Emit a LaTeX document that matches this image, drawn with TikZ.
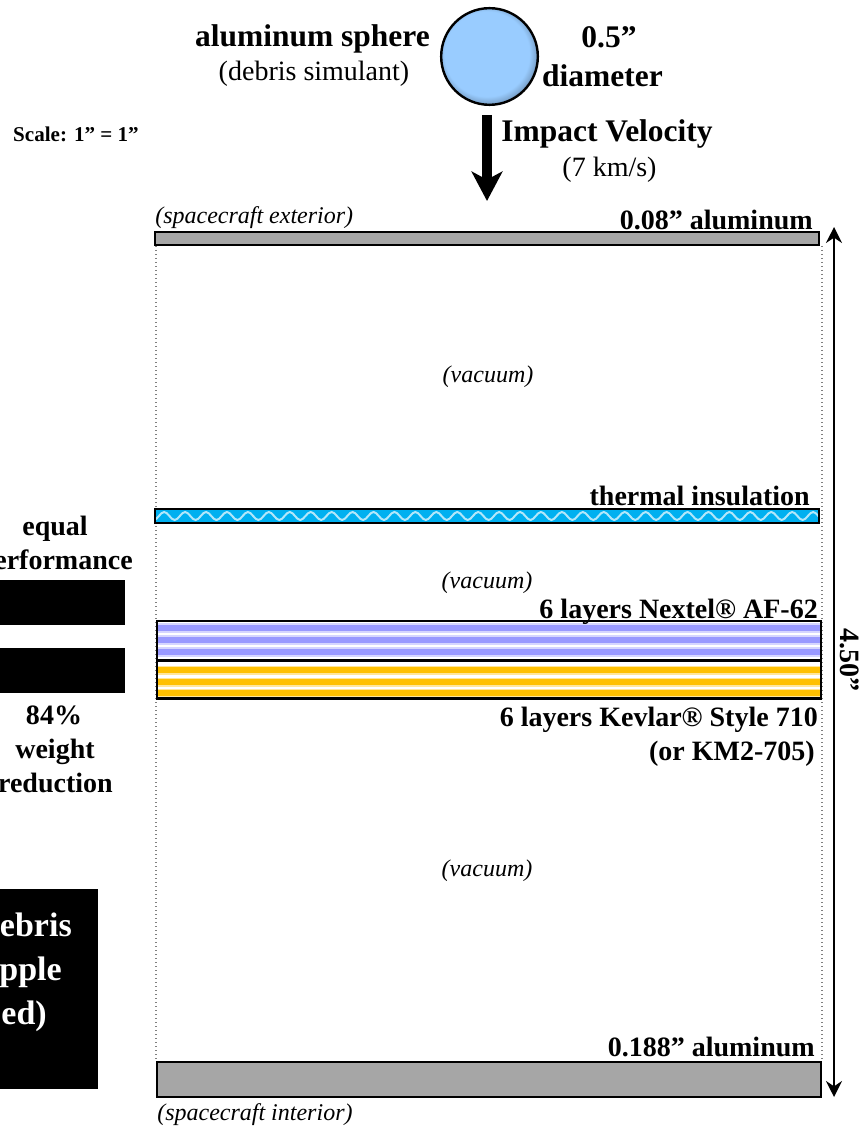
\documentclass[tikz,border=0pt]{standalone}
\usepackage{fontspec}
\setmainfont{Liberation Serif}
\usetikzlibrary{arrows.meta,decorations.pathmorphing}
\definecolor{alugray}{HTML}{A6A6A6}
\definecolor{insblue}{HTML}{00B0F0}
\definecolor{nexblue}{HTML}{9999FF}
\definecolor{kevgold}{HTML}{FFC000}
\definecolor{sphbl}{HTML}{99CCFF}
\definecolor{sphmid}{HTML}{7FA9D4}
\definecolor{sphdk}{HTML}{34465A}
\pgfdeclareradialshading{spheresh}{\pgfpoint{-3bp}{3bp}}{%
  color(0bp)=(sphbl); color(22bp)=(sphbl); color(25bp)=(sphmid); color(28.5bp)=(sphdk); color(40bp)=(sphdk)}
\tikzset{
  bf/.style={font=\bfseries\fontsize{21}{25}\selectfont,anchor=base,inner sep=0pt},
  bg/.style={font=\bfseries\fontsize{23.6}{28}\selectfont,anchor=base,inner sep=0pt},
  rm/.style={font=\fontsize{21}{25}\selectfont,anchor=base,inner sep=0pt},
  it/.style={font=\itshape\fontsize{18}{22}\selectfont,anchor=base,inner sep=0pt},
  wt/.style={font=\bfseries\fontsize{25.5}{30}\selectfont,anchor=base,inner sep=0pt,text=white},
  layer/.style={draw=black,line width=1.8pt,inner sep=0pt,anchor=north west,minimum width=498pt},
  blk/.style={fill=black,draw=none,inner sep=0pt,anchor=north west},
  nexstripes/.style={path picture={
    \foreach \yy in {-13,-1,11}{
      \fill[nexblue!40] (-400,\yy-5) rectangle (400,\yy+5);
      \fill[nexblue] (-400,\yy-3) rectangle (400,\yy+3);}}},
  kevstripes/.style={path picture={
    \foreach \yy in {-9.5,2.5,13.5}{
      \fill[kevgold!40] (-400,\yy-4.5) rectangle (400,\yy+4.5);
      \fill[kevgold] (-400,\yy-2.7) rectangle (400,\yy+2.7);}}},
  inswave/.style={path picture={
    \draw[white!70!insblue,line width=1.5pt,decorate,decoration={snake,segment length=15.7pt,amplitude=3pt}] (-350,0) -- (350,0);}},
}
\begin{document}
\begin{tikzpicture}[x=0.75pt,y=-0.75pt]
            \useasboundingbox (0,0) rectangle (863,1126);
            % guide lines
            \coordinate (gla) at (156,246);
            \coordinate (glb) at (156,1061);
            \coordinate (gra) at (822,246);
            \coordinate (grb) at (822,1061);
            \path (gla) edge[gray,dotted,line width=1pt] (glb);
            \path (gra) edge[gray,dotted,line width=1pt] (grb);
            % layers
            \node[layer,fill=alugray,minimum height=9.45pt] (alutop) at (153.5,231) {};
            \node[layer,fill=insblue,minimum height=10.2pt,inswave] (ins) at (153.5,508) {};
            \node[layer,fill=white,minimum height=28.95pt,nexstripes] (nex) at (155.5,620) {};
            \node[layer,fill=white,minimum height=28.2pt,kevstripes] (kev) at (155.5,659.5) {};
            \node[layer,fill=alugray,minimum height=25.95pt] (alubot) at (155.5,1061) {};
            % sphere and impact arrow
            \node[circle,draw=black,line width=1.8pt,minimum size=72.5pt,inner sep=0pt,shading=spheresh] (sph) at (489.5,56.5) {};
            \coordinate (va) at (487,115);
            \coordinate (vb) at (487,201);
            \path (va) edge[line width=7.5pt,-{Stealth[length=22pt,width=23pt,inset=6pt]}] (vb);
            % overall thickness
            \coordinate (ta) at (834,227);
            \coordinate (tb) at (834,1097);
            \path (ta) edge[line width=1.3pt,{Stealth[length=12pt,width=12pt,inset=4pt]}-{Stealth[length=12pt,width=12pt,inset=4pt]}] (tb);
            \node[bf,rotate=-90,anchor=base] (thk) at (840,660) {4.50”};
            % top labels
            \node[bg] (sphlb) at (312.5,46.5) {aluminum sphere};
            \node[rm] (simlb) at (314,81) {(debris simulant)};
            \node[bg] (dlb) at (609,48) {0.5”};
            \node[bg] (dlc) at (602.5,87) {diameter};
            \node[bg] (vel) at (607,142) {Impact Velocity};
            \node[rm] (vkm) at (609.5,176.5) {(7 km/s)};
            \node[font=\bfseries\fontsize{15.8}{19}\selectfont,anchor=base,inner sep=0pt] (scl) at (76,142) {Scale: 1” = 1”};
            % layer labels
            \node[it,anchor=base west] (ext) at (155,224) {(spacecraft exterior)};
            \node[bf,anchor=base east] (alt) at (813,229.5) {0.08” aluminum};
            \node[it] (vca) at (488,382) {(vacuum)};
            \node[bf,anchor=base east] (inl) at (810,505) {thermal insulation};
            \node[it] (vcb) at (487,588) {(vacuum)};
            \node[bf,anchor=base east] (nxl) at (818,618.5) {6 layers Nextel® AF-62};
            \node[bf,anchor=base east] (kvl) at (818,726) {6 layers Kevlar® Style 710};
            \node[bf,anchor=base east] (kml) at (815,760) {(or KM2-705)};
            \node[it] (vcc) at (487,876) {(vacuum)};
            \node[bf,anchor=base east] (alb) at (815,1056.5) {0.188” aluminum};
            \node[it,anchor=base west] (int) at (157,1120.5) {(spacecraft interior)};
            % left column
            \node[bf] (eq) at (55,535.5) {equal};
            \node[bf,anchor=base east] (pf) at (133,569.5) {erformance};
            \node[blk,minimum width=93.75pt,minimum height=33.75pt] (bxa) at (0,580) {};
            \node[blk,minimum width=93.75pt,minimum height=33.75pt] (bxb) at (0,648) {};
            \node[bf] (pc) at (54,724.5) {84\%};
            \node[bf] (wg) at (55,758.5) {weight};
            \node[bf,anchor=base east] (rd) at (113,792) {reduction};
            \node[blk,minimum width=73.5pt,minimum height=150pt] (bxc) at (0,889) {};
            \node[wt,anchor=base east] (dbr) at (72,936) {ebris};
            \node[wt,anchor=base east] (rpl) at (62,980.5) {pple};
            \node[wt,anchor=base east] (edd) at (47,1024.5) {ed)};
        \end{tikzpicture}
\end{document}
